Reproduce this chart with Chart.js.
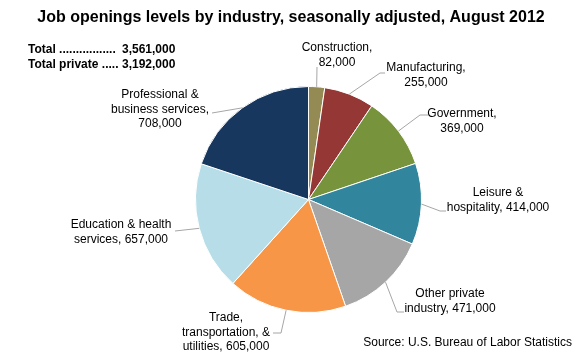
<!DOCTYPE html>
<html>
<head>
<meta charset="utf-8">
<script src="https://cdn.jsdelivr.net/npm/chart.js@4/dist/chart.umd.min.js"></script>
<style>
  html, body { margin: 0; padding: 0; background: #fff; }
  #wrap { width: 580px; height: 360px; position: relative; }
</style>
</head>
<body>
<div id="wrap"><canvas id="pie" width="580" height="360"></canvas></div>
<script>
// data (thousands of job openings)
const industries = ['Construction', 'Manufacturing', 'Government', 'Leisure & hospitality',
  'Other private industry', 'Trade, transportation, & utilities',
  'Education & health services', 'Professional & business services'];
const openings = [82, 255, 369, 414, 471, 605, 657, 708];
const totalLines = [['Total', '3,561,000'], ['Total private', '3,192,000']];
const titleText = 'Job openings levels by industry, seasonally adjusted, August 2012';
const sourceText = 'Source: U.S. Bureau of Labor Statistics';

const colors = ['#948A54', '#953735', '#77933C', '#31859C', '#A6A6A6', '#F79646', '#B7DEE8', '#17375E'];

// label text lines, where they sit, and the bend points of the leader line
const labelLines = [
  ['Construction,', '82,000'],
  ['Manufacturing,', '255,000'],
  ['Government,', '369,000'],
  ['Leisure &', 'hospitality, 414,000'],
  ['Other private', 'industry, 471,000'],
  ['Trade,', 'transportation, &', 'utilities, 605,000'],
  ['Education & health', 'services, 657,000'],
  ['Professional &', 'business services,', '708,000']
];
const labelPos = [
  { x: 337, y: 48, leader: [[317, 67]] },
  { x: 426, y: 68, leader: [[380, 73], [385, 73]] },
  { x: 462, y: 114, leader: [[420, 115], [428, 115]] },
  { x: 498, y: 193, leader: [[440, 211], [446, 211]] },
  { x: 450, y: 294, leader: [[397, 312], [404, 312]] },
  { x: 226, y: 318, leader: [[281, 333], [273, 333]] },
  { x: 121, y: 225, leader: [[175, 231]] },
  { x: 160, y: 95, leader: [[212, 113]] }
];

const fmt = v => v.toLocaleString('en-US') + ',000';

const textPlugin = {
  id: 'texts',
  afterDraw(chart) {
    const ctx = chart.ctx;
    const meta = chart.getDatasetMeta(0);
    ctx.save();

    // leader lines from the slice edge
    ctx.strokeStyle = '#A6A6A6';
    ctx.lineWidth = 1;
    meta.data.forEach((arc, i) => {
      const p = arc.getProps(['x', 'y', 'startAngle', 'endAngle', 'outerRadius'], true);
      const mid = (p.startAngle + p.endAngle) / 2;
      ctx.beginPath();
      ctx.moveTo(p.x + Math.cos(mid) * p.outerRadius, p.y + Math.sin(mid) * p.outerRadius);
      labelPos[i].leader.forEach(pt => ctx.lineTo(pt[0], pt[1]));
      ctx.stroke();
    });

    // slice labels
    ctx.fillStyle = '#000';
    ctx.font = '12px "Liberation Sans", Arial, sans-serif';
    ctx.textAlign = 'center';
    ctx.textBaseline = 'middle';
    labelLines.forEach((lines, i) => {
      lines.forEach((ln, j) => ctx.fillText(ln, labelPos[i].x, labelPos[i].y + j * 14.5));
    });

    // title
    ctx.font = 'bold 16px "Liberation Sans", Arial, sans-serif';
    ctx.fillText(titleText, 291, 18);

    // totals box
    ctx.font = 'bold 12px "Liberation Sans", Arial, sans-serif';
    ctx.textAlign = 'left';
    const dots = [' .................', ' .....'];
    totalLines.forEach((t, j) => {
      ctx.fillText(t[0] + dots[j], 28, 50 + j * 15);
      ctx.fillText(t[1], 122, 50 + j * 15);
    });

    // source
    ctx.font = '12px "Liberation Sans", Arial, sans-serif';
    ctx.textAlign = 'right';
    ctx.fillText(sourceText, 572, 343);
    ctx.restore();
  }
};

new Chart(document.getElementById('pie'), {
  type: 'pie',
  data: {
    labels: industries,
    datasets: [{
      data: openings,
      backgroundColor: colors,
      borderColor: '#fff',
      borderWidth: 1
    }]
  },
  options: {
    responsive: false,
    animation: false,
    layout: { padding: { left: 195, right: 158, top: 86, bottom: 47 } },
    plugins: {
      legend: { display: false },
      tooltip: { enabled: false }
    }
  },
  plugins: [textPlugin]
});
</script>
</body>
</html>
